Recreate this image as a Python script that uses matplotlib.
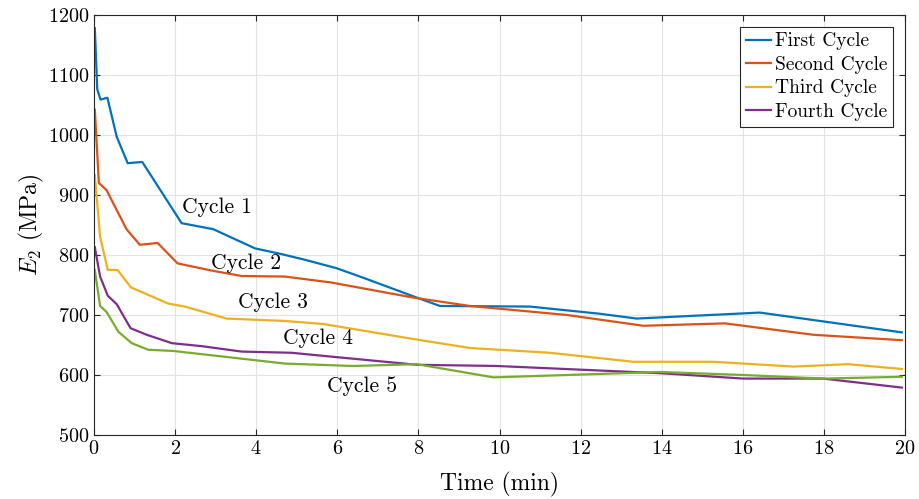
import matplotlib
matplotlib.use("Agg")
import matplotlib.pyplot as plt

plt.rcParams['font.family'] = ['cmr10', 'DejaVu Serif']
plt.rcParams['mathtext.fontset'] = 'cm'
plt.rcParams['axes.formatter.use_mathtext'] = True

# Cycle data (time in min, E2 in MPa)
t1 = [0.02, 0.08, 0.16, 0.33, 0.56, 0.83, 1.19, 2.16, 2.94, 3.97, 4.59, 5.2, 5.98, 6.6, 8.0, 8.53, 10.75, 12.48, 13.38, 16.42, 19.92]
e1 = [1178, 1076, 1059, 1062, 997, 953, 955, 853, 843, 811, 802, 792, 778, 763, 728, 715, 714, 702, 694, 704, 671]

t2 = [0.02, 0.12, 0.31, 0.8, 1.13, 1.57, 2.06, 2.9, 3.64, 4.71, 5.86, 7.87, 9.27, 11.66, 13.55, 15.56, 17.74, 19.92]
e2 = [1042, 920, 908, 843, 817, 820, 786, 774, 765, 764, 754, 729, 715, 700, 682, 686, 667, 658]

t3 = [0.02, 0.15, 0.34, 0.58, 0.91, 1.83, 2.24, 3.27, 4.71, 5.65, 7.96, 9.27, 11.24, 13.3, 15.27, 17.25, 18.6, 19.92]
e3 = [933, 830, 775, 775, 746, 719, 714, 694, 690, 685, 659, 645, 637, 622, 622, 614, 618, 610]

t4 = [0.02, 0.15, 0.34, 0.56, 0.9, 1.3, 1.92, 2.66, 3.64, 4.87, 5.94, 7.96, 9.93, 13.96, 16.01, 17.98, 19.92]
e4 = [813, 764, 732, 718, 678, 667, 653, 648, 639, 637, 630, 617, 615, 603, 594, 594, 579]

t5 = [0.02, 0.15, 0.31, 0.6, 0.93, 1.34, 1.96, 4.71, 6.39, 7.96, 9.85, 13.96, 16.01, 17.98, 19.92]
e5 = [775, 715, 705, 672, 653, 642, 640, 619, 615, 618, 596, 605, 600, 594, 597]

legend_names = ["First Cycle", "Second Cycle", "Third Cycle", "Fourth Cycle"]
colors = ["#0072BD", "#D95319", "#EDB120", "#7E2F8E", "#77AC30"]

cycle_labels = ["Cycle 1", "Cycle 2", "Cycle 3", "Cycle 4", "Cycle 5"]
label_x = [3.03, 3.75, 4.41, 5.52, 6.61]
label_y = [880, 787, 722, 662, 582]

fig = plt.figure(figsize=(9.19, 4.99), dpi=100)
ax = fig.add_axes([0.1023, 0.1283, 0.8825, 0.8417])

series = [(t1, e1), (t2, e2), (t3, e3), (t4, e4), (t5, e5)]
for i, (t, e) in enumerate(series):
    lab = legend_names[i] if i < len(legend_names) else None
    ax.plot(t, e, color=colors[i], lw=1.6, label=lab)

for txt, x, y in zip(cycle_labels, label_x, label_y):
    ax.text(x, y, txt, fontsize=15.5, ha="center", va="center")

ax.set_xlim(0, 20)
ax.set_ylim(500, 1200)
ax.set_xticks(range(0, 21, 2))
ax.set_yticks(range(500, 1201, 100))
ax.grid(True, color="#e3e3e3", lw=0.8)
ax.set_axisbelow(True)
ax.tick_params(direction="in", labelsize=14.5, length=4, color="#262626", top=True, right=True)
for sp in ax.spines.values():
    sp.set_color("#262626")
    sp.set_linewidth(0.8)

ax.set_xlabel("Time (min)", fontsize=17, labelpad=10)
ax.set_ylabel(r"$E_2$ (MPa)", fontsize=17, labelpad=1)

leg = ax.legend(loc="upper right", fontsize=14, handlelength=1.3, handletextpad=0.2,
                borderpad=0.3, labelspacing=0.28, fancybox=False, framealpha=1,
                edgecolor="#262626", borderaxespad=0.6)
leg.get_frame().set_linewidth(0.8)

fig.savefig("out.png", dpi=100)
